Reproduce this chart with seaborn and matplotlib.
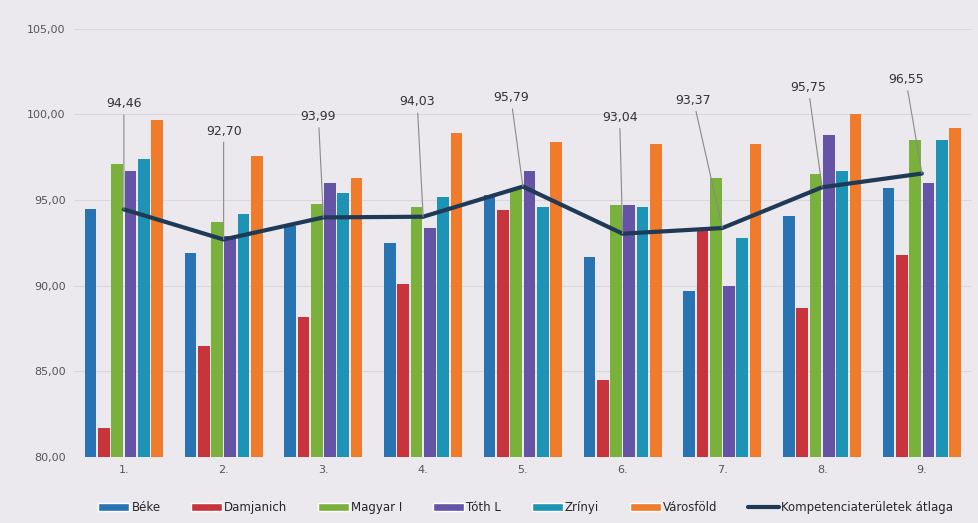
import matplotlib.pyplot as plt
import numpy as np
import pandas as pd
import seaborn as sns
from matplotlib.lines import Line2D
from matplotlib.patches import Patch

CATS = ["1.", "2.", "3.", "4.", "5.", "6.", "7.", "8.", "9."]
SCHOOLS = ["Béke", "Damjanich", "Magyar I", "Tóth L", "Zrínyi", "Városföld"]
BEKE = [94.5, 91.9, 93.5, 92.5, 95.3, 91.7, 89.7, 94.1, 95.7]
DAMJANICH = [81.7, 86.5, 88.2, 90.1, 94.4, 84.5, 93.3, 88.7, 91.8]
MAGYAR = [97.1, 93.7, 94.8, 94.6, 95.7, 94.7, 96.3, 96.5, 98.5]
TOTH = [96.7, 92.9, 96.0, 93.4, 96.7, 94.7, 90.0, 98.8, 96.0]
ZRINYI = [97.4, 94.2, 95.4, 95.2, 94.6, 94.6, 92.8, 96.7, 98.5]
VAROSFOLD = [99.7, 97.6, 96.3, 98.9, 98.4, 98.3, 98.3, 100.0, 99.2]
AVG = [94.46, 92.70, 93.99, 94.03, 95.79, 93.04, 93.37, 95.75, 96.55]
AVG_LABEL = "Kompetenciaterületek átlaga"

COLORS = ["#2874b2", "#c8343c", "#79b13c", "#6553a6", "#1d93b5", "#f07b2b"]
LINE_C = "#1f3a56"
BG = "#ebe9ed"

# label positions (category offset, y) for the average annotations
LBL_DX = [0.0, 0.0, -0.05, -0.06, -0.12, -0.03, -0.29, -0.14, -0.16]
LBL_Y = [100.25, 98.65, 99.5, 100.35, 100.6, 99.45, 100.45, 101.2, 101.65]

vals = [BEKE, DAMJANICH, MAGYAR, TOTH, ZRINYI, VAROSFOLD]
df = pd.DataFrame({
    "cat": np.tile(CATS, len(SCHOOLS)),
    "school": np.repeat(SCHOOLS, len(CATS)),
    "value": np.concatenate(vals),
})

sns.set_style("white")
plt.rcParams["font.family"] = ["DejaVu Sans"]
fig = plt.figure(figsize=(9.79, 5.23), dpi=100, facecolor=BG)
ax = fig.add_axes([0.0756, 0.126, 0.917, 0.819])
ax.set_facecolor(BG)

sns.barplot(df, x="cat", y="value", hue="school", order=CATS, hue_order=SCHOOLS,
            palette=COLORS, width=0.8, gap=0.12, ax=ax, legend=False,
            saturation=1, edgecolor="none", zorder=2)
xs = np.arange(len(CATS))
sns.lineplot(x=xs, y=AVG, color=LINE_C, lw=3, ax=ax, zorder=4)

for i, v in enumerate(AVG):
    txt = f"{v:.2f}".replace(".", ",")
    ax.annotate(txt, xy=(i, v), xytext=(i + LBL_DX[i], LBL_Y[i]),
                ha="center", va="bottom", fontsize=9, color="#333333", zorder=5,
                arrowprops=dict(arrowstyle="-", color="#8a8a8a", lw=0.8,
                                shrinkA=1, shrinkB=0))

ax.set_ylim(80, 105)
ax.set_xlim(-0.5, len(CATS) - 0.5)
ax.set_yticks(np.arange(80, 106, 5))
ax.set_yticklabels([f"{t:.2f}".replace(".", ",") for t in np.arange(80, 106, 5)])
ax.yaxis.grid(True, color="#dad8dd", lw=0.8, zorder=0)
ax.tick_params(axis="both", length=0, labelsize=8, labelcolor="#555555", pad=6)
ax.set(xlabel="", ylabel="")
sns.despine(ax=ax, left=True, bottom=True, top=True, right=True)

handles = [Patch(facecolor=c, label=s) for c, s in zip(COLORS, SCHOOLS)]
handles.append(Line2D([0], [0], color=LINE_C, lw=3, label=AVG_LABEL))
fig.legend(handles=handles, loc="center", bbox_to_anchor=(0.537, 0.03), ncol=7,
           frameon=False, fontsize=8.5, handlelength=2.6, handleheight=0.7,
           columnspacing=2.6, handletextpad=0.2)

fig.savefig("out.png", dpi=100, facecolor=BG)
